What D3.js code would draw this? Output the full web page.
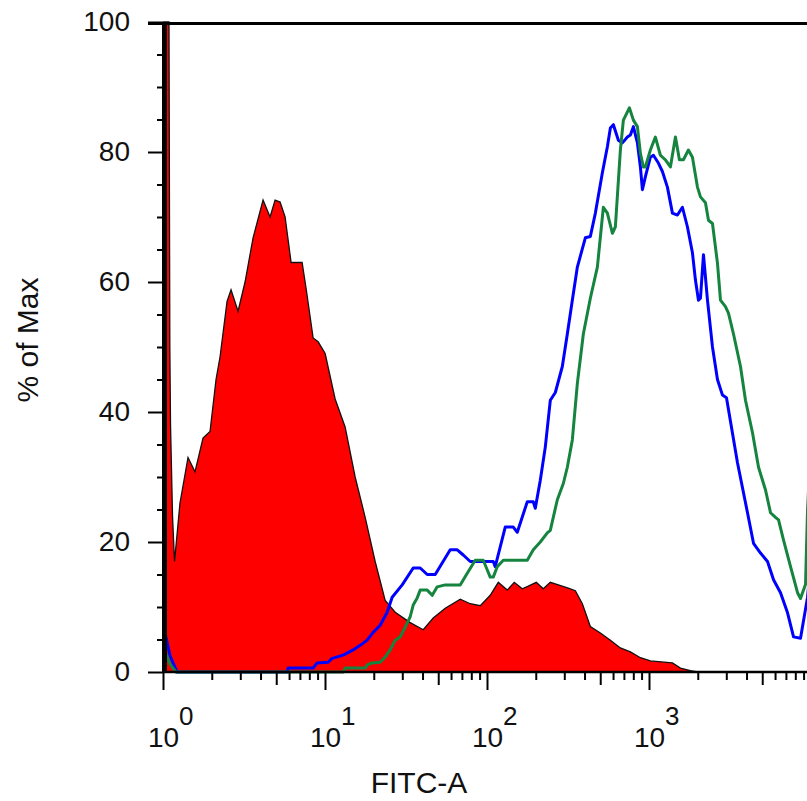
<!DOCTYPE html>
<html>
<head>
    <meta charset="utf-8">
    <title>FITC-A histogram</title>
    <script src="https://cdnjs.cloudflare.com/ajax/libs/d3/7.8.5/d3.min.js"></script>
    <style>
        body { margin: 0; background: #fff; }
        svg { display: block; font-family: "Liberation Sans", Arial, sans-serif; }
    </style>
</head>
<body>
<script type="text/javascript">
    // filled (red) histogram
    var redX = [1, 1.089, 1.102, 1.113, 1.145, 1.178, 1.273, 1.427, 1.576, 1.766, 1.951,
        2.125, 2.250, 2.485, 2.630, 2.906, 3.210, 3.598, 4.147, 4.581, 4.919,
        5.281, 5.671, 6.176, 7.222, 7.645, 8.446, 9.068, 10.02, 11.55, 13.31,
        15.35, 17.70, 20.40, 23.52, 27.12, 33.57, 40.39, 46.56, 55.23, 68.36,
        78.81, 90.85, 104.7, 117.4, 133.4, 147.4, 165.1, 179.8, 201.5, 222.6,
        245.9, 275.6, 317.7, 351.0, 387.8, 434.4, 500.9, 577.5, 665.7, 767.5,
        884.9, 1020, 1395, 1563, 1802, 1991];
    var redY = [100, 100, 50, 38, 24, 17, 26, 33, 30.8, 36, 37,
        45, 48.5, 57, 58.8, 55.5, 60, 66.8, 72.6, 70, 72.6,
        72.3, 70, 63, 63, 59, 51.4, 50.8, 49, 42, 37.7,
        30, 23.8, 17, 11, 9.2, 7.6, 6.5, 8.3, 9.8, 11.2,
        10.5, 10.2, 11.8, 13.8, 12.6, 13.8, 12.8, 13.2, 13.8, 12.8,
        13.8, 13.4, 12.9, 12.5, 10.5, 7, 6, 4.9, 3.7, 3.1,
        2.2, 1.7, 1.4, 0.6, 0.2, 0];

    // blue outline histogram
    var blueX = [1, 1.03, 1.105, 1.220, 5.85, 5.918, 8.446, 8.940, 10.45, 11.07,
        12.94, 14.92, 16.48, 18.21, 19.83, 21.90, 24.20, 25.98, 29.96, 35.03,
        38.69, 42.75, 47.90, 59.29, 65.51, 71.35, 78.81, 109.3, 112.4, 129.6,
        145.3, 153.8, 177.3, 193.1, 198.7, 213.3, 229.0, 245.9, 264.1, 291.7,
        313.2, 336.3, 361.2, 404.6, 434.4, 466.6, 515.4, 553.4, 577.5, 602.7,
        647.1, 685.0, 735.4, 767.5, 801.1, 848.0, 884.9, 910.5, 950.1, 1020,
        1064.7, 1143, 1210, 1299, 1395, 1498, 1608, 1726, 1854, 1935,
        2020, 2078, 2169, 2296, 2465, 2646, 2841, 3008, 3517, 4055,
        4417, 4879, 5390, 5870, 6484, 7164, 7802, 8618, 9521, 10224];
    var blueY = [6.2, 6, 2.5, 0, 0, 0.6, 0.6, 1.4, 1.5, 2.1,
        2.6, 3.4, 4.1, 4.9, 6.1, 7.2, 9.2, 11.5, 13.4, 16,
        16, 15, 15, 18.8, 18.8, 18, 17, 17, 16.2, 22.3,
        22.3, 21.5, 26.2, 26.2, 25.2, 29.5, 34.6, 41.8, 43, 47,
        52, 57.2, 62.3, 66.8, 67, 70.6, 76.8, 80.8, 83.7, 84.2,
        81.8, 81.4, 82.3, 82.6, 83.9, 81.4, 77.7, 74.2, 76.2, 79.2,
        79.5, 78.3, 77, 74.6, 70.6, 70.3, 71.5, 68.5, 64.5, 60.3,
        57.2, 57.5, 64.2, 57.2, 50, 45, 42.6, 42.2, 32.2, 24.5,
        19.8, 18.3, 17, 14.2, 12.2, 9.1, 5.4, 5.2, 11.5, 20];

    // green outline histogram
    var greenX = [1, 1.03, 1.105, 1.203, 13.0, 13.31, 17.70, 18.21, 19.55, 21.90,
        23.52, 25.25, 27.12, 29.12, 31.27, 33.57, 35.03, 37.08, 38.69, 42.75,
        45.90, 49.28, 55.23, 68.36, 75.52, 84.62, 94.83, 100.4, 104.7, 109.3,
        115.7, 126.0, 177.3, 193.1, 213.3, 235.6, 245.9, 271.7, 295.9, 313.2,
        336.3, 361.2, 393.3, 434.4, 480.0, 522.8, 553.4, 594.2, 620.1, 665.7,
        694.8, 756.6, 801.1, 848.0, 884.9, 923.5, 950.1, 1020, 1095, 1176,
        1263, 1356, 1456, 1541, 1631, 1751, 1854, 1991, 2078, 2231,
        2329, 2465, 2646, 2762, 2965, 3094, 3323, 3671, 3941, 4354,
        4743, 5239, 5625, 6039, 6303, 6768, 7476, 8258, 8618, 9254,
        9521, 10224];
    var greenY = [3.4, 3.2, 1.2, 0, 0, 0.6, 0.6, 1.1, 1.4, 1.5,
        2.3, 3.4, 4.9, 5.4, 6.9, 8.5, 10.3, 11.4, 12.6, 12.6,
        11.8, 13.1, 13.4, 13.4, 15.2, 17.2, 17.2, 15.7, 14.6, 14.6,
        16.2, 17.2, 17.2, 18.8, 20, 21.4, 21.8, 26.5, 29, 31.5,
        35.7, 44.4, 52, 57.5, 62.3, 71.5, 70.6, 67.5, 68.5, 80.3,
        84.9, 86.8, 84.9, 83.9, 79.8, 77.7, 77.7, 80.3, 82.3, 79.5,
        78.8, 77.7, 82.3, 78.8, 78.8, 80.3, 79.2, 74.6, 73.1, 72.2,
        69.5, 69, 62.9, 57.2, 56.2, 55.2, 52, 47, 41.8, 36.8,
        31.5, 28, 24.5, 23.8, 23.4, 20.3, 16.2, 12.2, 11.3, 13.5,
        25, 40];

    // ticks
    var yMajor = [0, 20, 40, 60, 80, 100];
    var yMinor = [5, 10, 15, 25, 30, 35, 45, 50, 55, 65, 70, 75, 85, 90, 95];
    var xMajor = [1, 10, 100, 1000];
    var xMid = [5, 50, 500, 5000];
    var xMinor = [2, 3, 4, 6, 7, 8, 9, 20, 30, 40, 60, 70, 80, 90,
        200, 300, 400, 600, 700, 800, 900, 2000, 3000, 4000, 6000, 7000, 8000, 9000];

    var width = 807, height = 801,
        plotLeft = 163, plotTop = 22, plotBottom = 672,
        fontSize = 28, titleSize = 30;

    var x = d3.scaleLog().domain([1, 10000]).range([plotLeft, plotLeft + 4 * 162]);
    var y = d3.scaleLinear().domain([0, 100]).range([plotBottom, plotTop]);

    var svg = d3.select("body").append("svg")
        .attr("width", width)
        .attr("height", height);

    svg.append("rect").attr("width", width).attr("height", height).attr("fill", "#fff");

    function pairs(xs, ys) {
        return xs.map(function (v, i) { return [v, ys[i]]; });
    }

    var area = d3.area()
        .x(function (d) { return x(d[0]); })
        .y0(y(0))
        .y1(function (d) { return y(d[1]); });
    var line = d3.line()
        .x(function (d) { return x(d[0]); })
        .y(function (d) { return y(d[1]); });

    var red = pairs(redX, redY);
    svg.append("path").datum(red).attr("d", area).attr("fill", "#ff0000");
    svg.append("path").datum(red).attr("d", line)
        .attr("fill", "none").attr("stroke", "#111").attr("stroke-width", 1.3);

    svg.append("path").datum(pairs(blueX, blueY)).attr("d", line)
        .attr("fill", "none").attr("stroke", "#0000ff")
        .attr("stroke-width", 3).attr("stroke-linejoin", "round");
    svg.append("path").datum(pairs(greenX, greenY)).attr("d", line)
        .attr("fill", "none").attr("stroke", "#15843f")
        .attr("stroke-width", 3).attr("stroke-linejoin", "round");

    function styleAxis(g) {
        g.select(".domain").remove();
        g.selectAll(".tick line").attr("stroke", "#000").attr("stroke-width", 2);
        g.attr("font-family", null).attr("font-size", fontSize);
    }

    // y axis
    svg.append("g").attr("transform", "translate(" + plotLeft + ",0)")
        .call(d3.axisLeft(y).tickValues(yMinor).tickSize(6).tickFormat(""))
        .call(styleAxis);
    svg.append("g").attr("transform", "translate(" + plotLeft + ",0)")
        .call(d3.axisLeft(y).tickValues(yMajor).tickSize(15).tickPadding(18))
        .call(styleAxis)
        .selectAll(".tick text").attr("fill", "#111");

    // x axis
    svg.append("g").attr("transform", "translate(0," + plotBottom + ")")
        .call(d3.axisBottom(x).tickValues(xMinor).tickSize(8).tickFormat(""))
        .call(styleAxis);
    svg.append("g").attr("transform", "translate(0," + plotBottom + ")")
        .call(d3.axisBottom(x).tickValues(xMid).tickSize(13).tickFormat(""))
        .call(styleAxis);
    var gx = svg.append("g").attr("transform", "translate(0," + plotBottom + ")")
        .call(d3.axisBottom(x).tickValues(xMajor).tickSize(18).tickFormat(""))
        .call(styleAxis);

    gx.selectAll(".tick text").each(function (d) {
        var t = d3.select(this)
            .attr("y", 75).attr("dy", null)
            .attr("text-anchor", "start").attr("fill", "#111");
        var base = t.append("tspan").text("10");
        t.append("tspan").attr("dy", -22).attr("font-size", 26)
            .text(Math.round(Math.log10(d)));
        t.attr("x", -base.node().getComputedTextLength() / 2);
    });

    // frame lines
    svg.append("line")
        .attr("x1", 148).attr("x2", width)
        .attr("y1", plotTop + 1.5).attr("y2", plotTop + 1.5)
        .attr("stroke", "#000").attr("stroke-width", 3);
    svg.append("line")
        .attr("x1", plotLeft).attr("x2", width)
        .attr("y1", plotBottom).attr("y2", plotBottom)
        .attr("stroke", "#000").attr("stroke-width", 2.5);
    svg.append("line")
        .attr("x1", plotLeft + 1.5).attr("x2", plotLeft + 1.5)
        .attr("y1", plotTop).attr("y2", plotBottom + 1)
        .attr("stroke", "#000").attr("stroke-width", 5);

    // axis titles
    svg.append("text")
        .attr("x", 419).attr("y", 793)
        .attr("text-anchor", "middle")
        .attr("font-size", titleSize).attr("fill", "#111")
        .text("FITC-A");
    svg.append("text")
        .attr("transform", "translate(38,340) rotate(-90)")
        .attr("text-anchor", "middle")
        .attr("font-size", titleSize).attr("fill", "#111")
        .text("% of Max");
</script>
</body>
</html>
